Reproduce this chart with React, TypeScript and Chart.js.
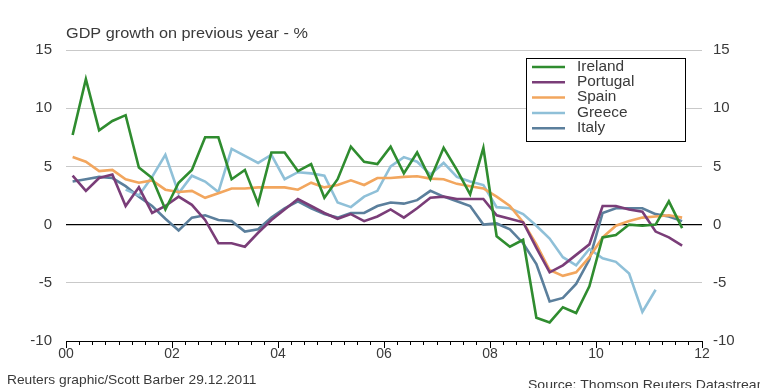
import React, { useEffect, useRef } from 'react';
import { Chart, registerables } from 'chart.js';

Chart.register(...registerables);

const quarters: string[] = [
  '2000Q1', '2000Q2', '2000Q3', '2000Q4',
  '2001Q1', '2001Q2', '2001Q3', '2001Q4',
  '2002Q1', '2002Q2', '2002Q3', '2002Q4',
  '2003Q1', '2003Q2', '2003Q3', '2003Q4',
  '2004Q1', '2004Q2', '2004Q3', '2004Q4',
  '2005Q1', '2005Q2', '2005Q3', '2005Q4',
  '2006Q1', '2006Q2', '2006Q3', '2006Q4',
  '2007Q1', '2007Q2', '2007Q3', '2007Q4',
  '2008Q1', '2008Q2', '2008Q3', '2008Q4',
  '2009Q1', '2009Q2', '2009Q3', '2009Q4',
  '2010Q1', '2010Q2', '2010Q3', '2010Q4',
  '2011Q1', '2011Q2', '2011Q3',
];

const ireland: (number | null)[] = [
  7.7, 12.5, 8.1, 8.9, 9.4, 4.9, 4.0, 1.3, 3.6, 4.7, 7.5, 7.5,
  3.9, 4.7, 1.8, 6.2, 6.2, 4.6, 5.2, 2.3, 3.9, 6.7, 5.4, 5.2,
  6.7, 4.4, 6.2, 3.9, 6.6, 4.7, 2.6, 6.6, -1.0, -1.9, -1.3, -8.0,
  -8.4, -7.1, -7.6, -5.3, -1.1, -0.9, 0.0, -0.1, 0.0, 2.0, -0.3,
];
const portugal: (number | null)[] = [
  4.2, 2.9, 4.0, 4.3, 1.6, 3.2, 1.0, 1.6, 2.4, 1.7, 0.4, -1.6,
  -1.6, -1.9, -0.7, 0.4, 1.3, 2.2, 1.6, 1.0, 0.5, 0.9, 0.3, 0.7,
  1.3, 0.6, 1.4, 2.3, 2.4, 2.2, 2.2, 2.2, 0.8, 0.5, 0.2, -2.0,
  -4.1, -3.5, -2.6, -1.7, 1.6, 1.6, 1.3, 1.1, -0.6, -1.1, -1.8,
];
const spain: (number | null)[] = [
  5.8, 5.4, 4.6, 4.7, 3.9, 3.6, 3.8, 3.0, 2.8, 2.9, 2.3, 2.7,
  3.1, 3.1, 3.2, 3.2, 3.2, 3.0, 3.6, 3.2, 3.4, 3.8, 3.4, 4.0,
  4.0, 4.1, 4.15, 3.95, 3.9, 3.5, 3.3, 3.1, 2.4, 1.6, 0.2, -1.7,
  -3.9, -4.4, -4.1, -2.8, -1.1, -0.1, 0.3, 0.6, 0.7, 0.8, 0.6,
];
const greece: (number | null)[] = [
  null, null, null, null, 3.0, 2.5, 4.1, 6.0, 2.7, 4.2, 3.7, 2.8,
  6.5, 5.9, 5.3, 6.0, 3.9, 4.5, 4.4, 4.2, 1.9, 1.5, 2.4, 2.9,
  5.0, 5.8, 5.4, 4.3, 5.3, 4.1, 3.7, 3.4, 1.5, 1.4, 0.9, -0.1,
  -1.2, -2.8, -3.5, -2.1, -2.9, -3.2, -4.2, -7.5, -5.6, null, null,
];
const italy: (number | null)[] = [
  3.7, 3.9, 4.1, 4.0, 3.3, 2.4, 1.6, 0.5, -0.5, 0.6, 0.8, 0.4,
  0.3, -0.6, -0.4, 0.6, 1.4, 2.0, 1.4, 0.9, 0.6, 1.0, 1.0, 1.6,
  1.9, 1.8, 2.1, 2.9, 2.4, 2.0, 1.6, 0.0, 0.1, -0.4, -1.6, -3.4,
  -6.6, -6.3, -5.1, -3.0, 1.0, 1.4, 1.4, 1.4, 0.9, 0.7, 0.3,
];

const seriesNames = ['Ireland', 'Portugal', 'Spain', 'Greece', 'Italy'];
const seriesValues = [ireland, portugal, spain, greece, italy];
const seriesColors = ['#2f8c2f', '#7a3d78', '#f2a65e', '#8fc0d8', '#5b7f9c'];

const yTicks = [-10, -5, 0, 5, 10, 15];
const xTickYears = [2000, 2002, 2004, 2006, 2008, 2010, 2012];

const axisTitle = 'GDP growth on previous year - %';
const creditText = 'Reuters graphic/Scott Barber 29.12.2011';
const sourceText = 'Source: Thomson Reuters Datastream';

const FONT = "'Liberation Sans', Arial, sans-serif";
const TEXT = '#3a3a3a';

function quarterToX(q: string): number {
  const year = parseInt(q.slice(0, 4), 10);
  const qi = parseInt(q.slice(5), 10);
  return year + (qi - 0.5) / 4;
}

function stretchText(ctx: CanvasRenderingContext2D, text: string, x: number, y: number, sx: number) {
  ctx.save();
  ctx.translate(x, y);
  ctx.scale(sx, 1);
  ctx.fillText(text, 0, 0);
  ctx.restore();
}

const decorPlugin = {
  id: 'decor',
  afterDraw(chart: any) {
    const ctx = chart.ctx as CanvasRenderingContext2D;
    const xs = chart.scales.x;
    const area = chart.chartArea;
    ctx.save();
    // major ticks
    ctx.strokeStyle = '#000';
    ctx.lineWidth = 1;
    xTickYears.forEach((yr) => {
      const px = Math.round(xs.getPixelForValue(yr)) + 0.5;
      ctx.beginPath();
      ctx.moveTo(px, area.bottom);
      ctx.lineTo(px, area.bottom + 7);
      ctx.stroke();
    });
    // axis title
    ctx.fillStyle = TEXT;
    ctx.font = `14px ${FONT}`;
    ctx.textBaseline = 'middle';
    ctx.textAlign = 'left';
    stretchText(ctx, axisTitle, 66, 34, 1.16);
    // legend
    const bx = 526, by = 58, bw = 159, bh = 83;
    ctx.fillStyle = '#fff';
    ctx.fillRect(bx, by, bw, bh);
    ctx.strokeStyle = '#000';
    ctx.lineWidth = 1;
    ctx.strokeRect(bx + 0.5, by + 0.5, bw, bh);
    ctx.font = `14px ${FONT}`;
    seriesNames.forEach((name, i) => {
      const yy = 67 + i * 15.3;
      ctx.strokeStyle = seriesColors[i];
      ctx.lineWidth = 2.5;
      ctx.beginPath();
      ctx.moveTo(532, yy);
      ctx.lineTo(565, yy);
      ctx.stroke();
      ctx.fillStyle = TEXT;
      stretchText(ctx, name, 577, yy, 1.1);
    });
    // footers
    ctx.font = `13px ${FONT}`;
    ctx.fillStyle = TEXT;
    stretchText(ctx, creditText, 7, 380, 1.06);
    stretchText(ctx, sourceText, 528, 385, 1.08);
    ctx.restore();
  },
};

export default function App() {
  const ref = useRef<HTMLCanvasElement | null>(null);

  useEffect(() => {
    document.body.style.margin = '0';
    const canvas = ref.current;
    if (!canvas) return;
    const xVals = quarters.map(quarterToX);
    const chart = new Chart(canvas, {
      type: 'line',
      data: {
        datasets: seriesNames.map((name, i) => ({
          label: name,
          data: seriesValues[i].map((v, j) => ({ x: xVals[j], y: v })),
          borderColor: seriesColors[i],
          backgroundColor: seriesColors[i],
          borderWidth: 2.6,
          pointRadius: 0,
          tension: 0,
          spanGaps: false,
          yAxisID: 'y',
        })),
      },
      options: {
        responsive: false,
        animation: false,
        events: [],
        layout: { padding: { top: 50, left: 0, right: 0, bottom: 0 } },
        plugins: {
          legend: { display: false },
          title: { display: false },
          tooltip: { enabled: false },
        },
        scales: {
          x: {
            type: 'linear',
            min: 2000,
            max: 2012,
            afterFit: (s: any) => { s.height = 47; },
            afterBuildTicks: (s: any) => {
              const t: any[] = [];
              for (let k = 0; k <= 48; k++) t.push({ value: 2000 + k / 4 });
              s.ticks = t;
            },
            ticks: {
              autoSkip: false,
              maxRotation: 0,
              minRotation: 0,
              padding: 1,
              color: TEXT,
              font: { family: FONT, size: 14 },
              callback: (v: any) => {
                const n = Number(v);
                if (xTickYears.indexOf(n) >= 0) return String(n % 100).padStart(2, '0');
                return '';
              },
            },
            grid: {
              drawOnChartArea: false,
              drawTicks: true,
              tickLength: 4,
              tickColor: '#000',
              tickWidth: 1,
            },
            border: { display: true, color: '#000', width: 1 },
          },
          y: {
            position: 'left',
            min: -10,
            max: 15,
            afterFit: (s: any) => { s.width = 66; },
            afterBuildTicks: (s: any) => { s.ticks = yTicks.map((v) => ({ value: v })); },
            ticks: {
              padding: 14,
              color: TEXT,
              font: { family: FONT, size: 15 },
            },
            grid: {
              drawTicks: false,
              color: (c: any) => (c.tick && c.tick.value === 0 ? '#000' : c.tick && c.tick.value === -10 ? 'rgba(0,0,0,0)' : '#c9c9c9'),
              lineWidth: (c: any) => (c.tick && c.tick.value === 0 ? 1.3 : 1),
            },
            border: { display: false },
          },
          y2: {
            position: 'right',
            min: -10,
            max: 15,
            afterFit: (s: any) => { s.width = 58; },
            afterBuildTicks: (s: any) => { s.ticks = yTicks.map((v) => ({ value: v })); },
            ticks: {
              padding: 11,
              color: TEXT,
              font: { family: FONT, size: 15 },
            },
            grid: { drawOnChartArea: false, drawTicks: false },
            border: { display: false },
          },
        },
      } as any,
      plugins: [decorPlugin],
    });
    return () => chart.destroy();
  }, []);

  return (
    <div style={{ width: 760, height: 388, background: '#fff' }}>
      <canvas ref={ref} width={760} height={388} style={{ display: 'block' }} />
    </div>
  );
}
